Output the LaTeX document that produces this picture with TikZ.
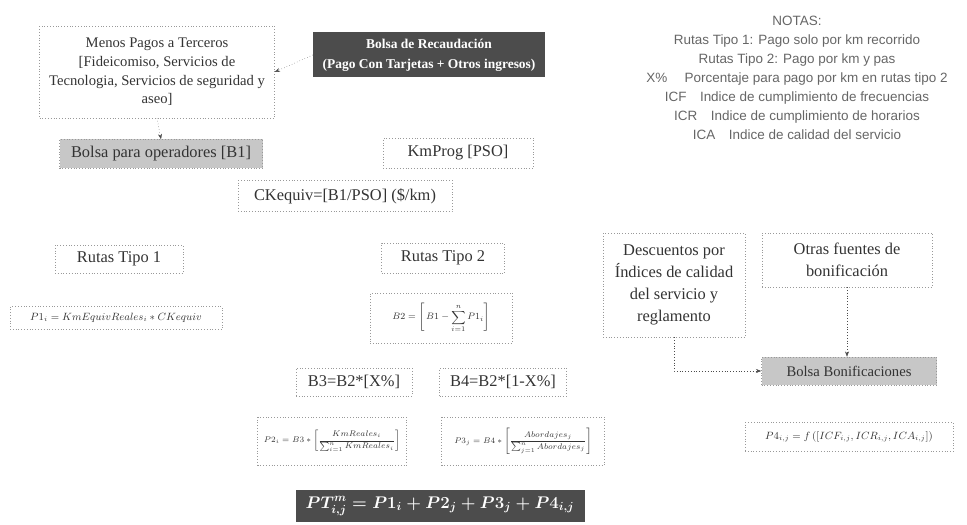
\documentclass[tikz,border=0pt]{standalone}
\usepackage{amsmath,amssymb}
\usepackage{fontspec}
\setmainfont{Liberation Serif}
\newfontfamily\notesfont{Liberation Sans}
\usetikzlibrary{arrows.meta}

\begin{document}
\begin{tikzpicture}[
    x=0.3mm, y=-0.3mm,
    wh/.style 2 args={minimum width=#1*0.3mm, minimum height=#2*0.3mm},
    box/.style={draw=black!40, dotted, align=center, inner sep=0pt, text=black!80, font=\fontsize{14}{19}\selectfont},
    formula/.style={box, font=\fontsize{9}{11}\selectfont},
    dark/.style={box, draw=none, fill=black!70, text=white, font=\fontsize{11.5}{17}\selectfont\bfseries},
    shaded/.style={box, fill=black!22},
    flow/.style={-{Stealth[length=1.6mm]}, dotted, draw=black!70}
]
\useasboundingbox (0,0) rectangle (967,525);
% ingresos y descuentos
\node[box, wh={235}{92}, font=\fontsize{12.5}{16}\selectfont] (terceros) at (157,72) {Menos Pagos a Terceros\\{[}Fideicomiso, Servicios de\\Tecnologia, Servicios de seguridad y\\aseo]};
\node[dark, wh={232}{45}] (recaudo) at (429,55) {Bolsa de Recaudación\\(Pago Con Tarjetas + Otros ingresos)};
\node[shaded, wh={203}{29}] (b1) at (161,154) {Bolsa para operadores [B1]};
\node[box, wh={150}{30}] (kmprog) at (458,153) {KmProg [PSO]};
\node[box, wh={214}{31}] (ckequiv) at (345,196) {CKequiv=[B1/PSO] (\$/km)};
\draw[flow] (recaudo.west) -- (terceros.east);
\draw[flow] (terceros.south) -- (b1.north);
% notas
\node[align=center, text=black!60, font=\notesfont\fontsize{11.5}{16.2}\selectfont] (notas) at (797,78) {NOTAS:\\Rutas Tipo 1: Pago solo por km recorrido\\Rutas Tipo 2: Pago por km y pas\\X\%\quad\ Porcentaje para pago por km en rutas tipo 2\\ICF\quad Indice de cumplimiento de frecuencias\\ICR\quad Indice de cumplimiento de horarios\\ICA\quad Indice de calidad del servicio};
% rutas
\node[box, wh={128}{28}] (tipo1) at (119,259) {Rutas Tipo 1};
\node[formula, wh={212}{23}] (p1) at (116,318) {$P1_i = KmEquivReales_i * CKequiv$};
\node[box, wh={123}{30}] (tipo2) at (443,258) {Rutas Tipo 2};
\node[formula, wh={142}{50}, font=\fontsize{8}{10}\selectfont] (b2) at (441,318) {$\displaystyle B2 = \left[\,B1 - \sum_{i=1}^{n} P1_i\right]$};
\node[box, wh={116}{28}] (b3) at (354,382) {B3=B2*[X\%]};
\node[box, wh={127}{28}] (b4) at (503,382) {B4=B2*[1-X\%]};
\node[formula, wh={149}{48}, font=\fontsize{7.5}{9}\selectfont] (p2) at (332,441) {$\displaystyle P2_i = B3 * \left[\frac{KmReales_i}{\sum_{i=1}^{n} KmReales_i}\right]$};
\node[formula, wh={163}{48}, font=\fontsize{7.5}{9}\selectfont] (p3) at (523,441) {$\displaystyle P3_j = B4 * \left[\frac{Abordajes_j}{\sum_{j=1}^{n} Abordajes_j}\right]$};
% bonificaciones
\node[box, wh={142}{104}] (descuentos) at (674,285) {Descuentos por\\Índices de calidad\\del servicio y\\reglamento};
\node[box, wh={170}{54}] (otras) at (847,260) {Otras fuentes de\\bonificación};
\node[shaded, wh={175}{28}, font=\fontsize{12.5}{15}\selectfont] (bonif) at (849,371) {Bolsa Bonificaciones};
\node[formula, wh={208}{29}] (p4) at (849,437) {$P4_{i,j} = f\left(\left[ICF_{i,j}, ICR_{i,j}, ICA_{i,j}\right]\right)$};
\draw[flow] (descuentos.south) |- (bonif.west);
\draw[flow] (otras.south) -- (otras.south |- bonif.north);
% pago total
\node[dark, wh={289}{32}, font=\fontsize{14.5}{18}\selectfont\boldmath] (total) at (440,506) {$PT^{m}_{i,j} = P1_i + P2_j + P3_j + P4_{i,j}$};
\end{tikzpicture}
\end{document}
